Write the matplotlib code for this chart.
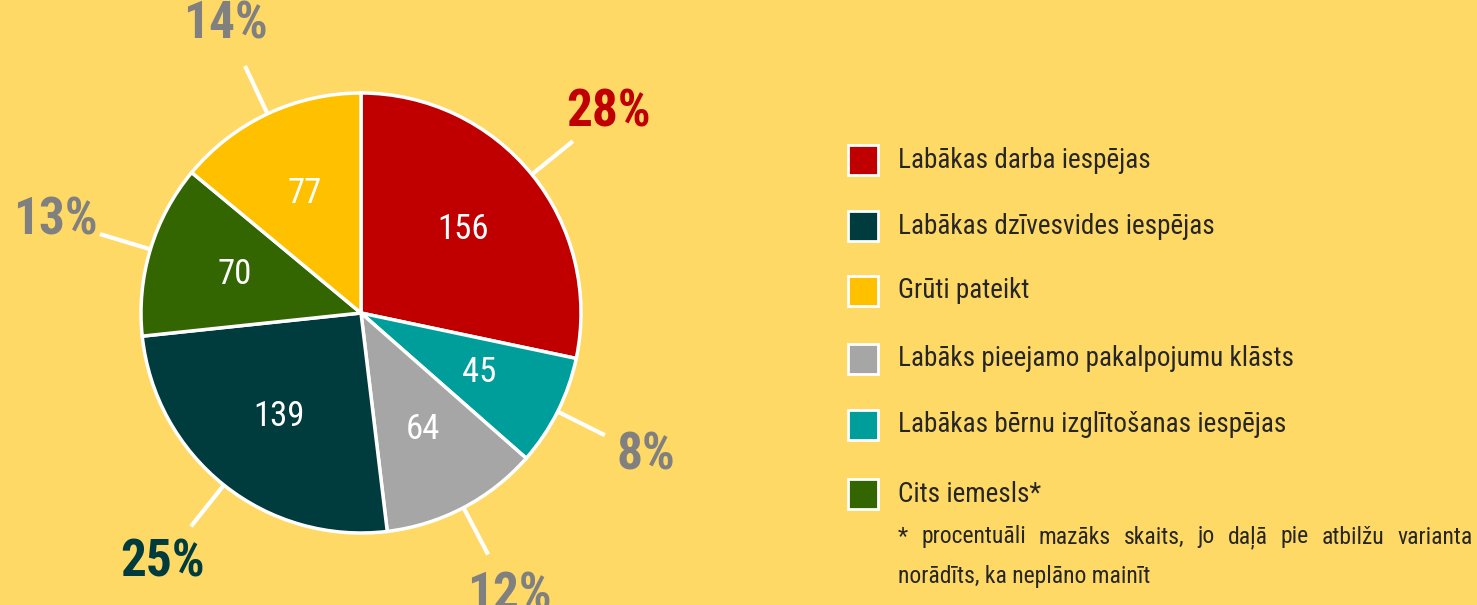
import numpy as np
import matplotlib
matplotlib.use('Agg')
import matplotlib.pyplot as plt
from matplotlib import font_manager
from matplotlib.patches import Rectangle

names = set(f.name for f in font_manager.fontManager.ttflist)
family = 'DejaVu Sans'
for cand in ['Roboto Condensed', 'Liberation Sans Narrow', 'Open Sans Condensed', 'Roboto', 'Liberation Sans']:
    if cand in names:
        family = cand
        break
plt.rcParams['font.family'] = [family, 'DejaVu Sans']

# data
labels = ['Labākas darba iespējas', 'Labākas bērnu izglītošanas iespējas',
          'Labāks pieejamo pakalpojumu klāsts', 'Labākas dzīvesvides iespējas',
          'Cits iemesls*', 'Grūti pateikt']
values = [156, 45, 64, 139, 70, 77]
colors = ['#C00000', '#009E9A', '#A6A6A6', '#003C3E', '#336600', '#FFC000']
pct_colors = ['#C00000', '#808080', '#808080', '#003C3E', '#808080', '#808080']

legend_order = ['Labākas darba iespējas', 'Labākas dzīvesvides iespējas', 'Grūti pateikt',
                'Labāks pieejamo pakalpojumu klāsts', 'Labākas bērnu izglītošanas iespējas',
                'Cits iemesls*']
footnote = '* procentuāli mazāks skaits, jo daļā pie atbilžu varianta'
footnote2 = 'norādīts, ka neplāno mainīt'

bg = '#FFD966'
W, H = 1477, 605
fig = plt.figure(figsize=(W / 100, H / 100), dpi=100, facecolor=bg)
ax = fig.add_axes([0, 0, 1, 1])
ax.set_facecolor(bg)

cx, cy, r = 361, 292, 220
total = sum(values)
wedges, _, autotexts = ax.pie(values, colors=colors, center=(cx, cy), radius=r,
                              startangle=90, counterclock=False,
                              autopct=lambda p: f'{round(p * total / 100)}', pctdistance=0.6,
                              wedgeprops=dict(edgecolor='white', linewidth=2.5),
                              textprops=dict(color='white', fontsize=25))
ax.set_xlim(0, W)
ax.set_ylim(0, H)
ax.set_aspect('equal')
ax.axis('off')

for w, v, c in zip(wedges, values, pct_colors):
    ang = np.deg2rad((w.theta1 + w.theta2) / 2)
    dx, dy = np.cos(ang), np.sin(ang)
    ax.plot([cx + r * dx, cx + 1.24 * r * dx], [cy + r * dy, cy + 1.24 * r * dy],
            color='white', lw=3, solid_capstyle='butt')
    ax.text(cx + 1.45 * r * dx, cy + 1.45 * r * dy, f'{round(100 * v / total)}%',
            color=c, fontsize=37, fontweight='bold', ha='center', va='center')

# legend
ys = [160, 226, 291, 359, 425, 494]
for name, y in zip(legend_order, ys):
    c = colors[labels.index(name)]
    ax.add_patch(Rectangle((848, H - y - 15), 30, 30, facecolor=c, edgecolor='white', lw=2))
    ax.text(898, H - y, name, fontsize=19.5, color='#262626', va='center', ha='left')

# justified footnote
renderer = fig.canvas.get_renderer()
words = footnote.split(' ')
tx = [ax.text(0, H - 537, wd, fontsize=17, color='#262626', va='center', ha='left') for wd in words]
widths = [t.get_window_extent(renderer).width for t in tx]
x0, x1 = 898, 1473
gap = (x1 - x0 - sum(widths)) / (len(words) - 1)
x = x0
for t, wdt in zip(tx, widths):
    t.set_x(x)
    x += wdt + gap
ax.text(898, H - 577, footnote2, fontsize=17, color='#262626', va='center', ha='left')

fig.savefig('out.png', dpi=100, facecolor=bg)
